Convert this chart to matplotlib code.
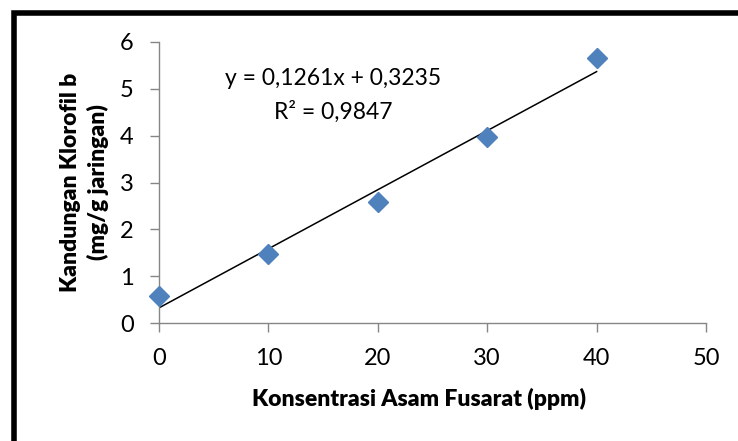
import matplotlib
matplotlib.use("Agg")
import matplotlib.pyplot as plt
from matplotlib.patches import Rectangle

# Data
konsentrasi = [0, 10, 20, 30, 40]
klorofil_b = [0.58, 1.47, 2.58, 3.97, 5.66]
slope = 0.1261
intercept = 0.3235
eq_text = "y = 0,1261x + 0,3235"
r2_text = "R² = 0,9847"
x_ticks = [0, 10, 20, 30, 40, 50]
y_ticks = [0, 1, 2, 3, 4, 5, 6]
x_label = "Konsentrasi Asam Fusarat (ppm)"
y_label = "Kandungan Klorofil b\n(mg/g jaringan)"

plt.rcParams['font.family'] = ['Lato', 'DejaVu Sans']

fig = plt.figure(figsize=(7.38, 4.41), dpi=100)
ax = fig.add_axes([159/738, 1-323/441, (706-159)/738, (323-42)/441])

ax.plot(konsentrasi, klorofil_b, linestyle='none', marker='D', markersize=10.5,
        color='#4F81BD', markeredgecolor='#4F81BD', zorder=3, clip_on=False)
xs = [konsentrasi[0], konsentrasi[-1]]
ax.plot(xs, [slope*x + intercept for x in xs], color='black', linewidth=1.1, zorder=2)

ax.set_xlim(0, 50)
ax.set_ylim(0, 6)
ax.set_xticks(x_ticks)
ax.set_yticks(y_ticks)
ax.set_xticklabels([str(v) for v in x_ticks])
ax.set_yticklabels([str(v) for v in y_ticks])
for s in ['top', 'right']:
    ax.spines[s].set_visible(False)
for s in ['left', 'bottom']:
    ax.spines[s].set_color('#868686')
    ax.spines[s].set_linewidth(1.0)
ax.tick_params(axis='both', direction='out', length=6.3, width=1.0, color='#868686',
               labelsize=17, pad=12)
ax.set_xlabel(x_label, fontsize=16.5, fontweight='heavy')
ax.xaxis.set_label_coords(0.475, -0.27)
ax.xaxis.label.set_va('center')
ax.set_ylabel(y_label, fontsize=16.5, fontweight='heavy', labelpad=8, linespacing=1.3)

ax.text(15.9, 5.23, eq_text, fontsize=16.5, ha='center', va='center')
ax.text(15.9, 4.5, r2_text, fontsize=16.5, ha='center', va='center')

# Outer chart border (partly cropped)
fig.patches.append(Rectangle((14/738, -0.1), 1.2, 1 - 12.5/441 + 0.1,
                             transform=fig.transFigure, fill=False,
                             edgecolor='black', linewidth=4.0, zorder=10))

fig.savefig("out.png", dpi=100)
